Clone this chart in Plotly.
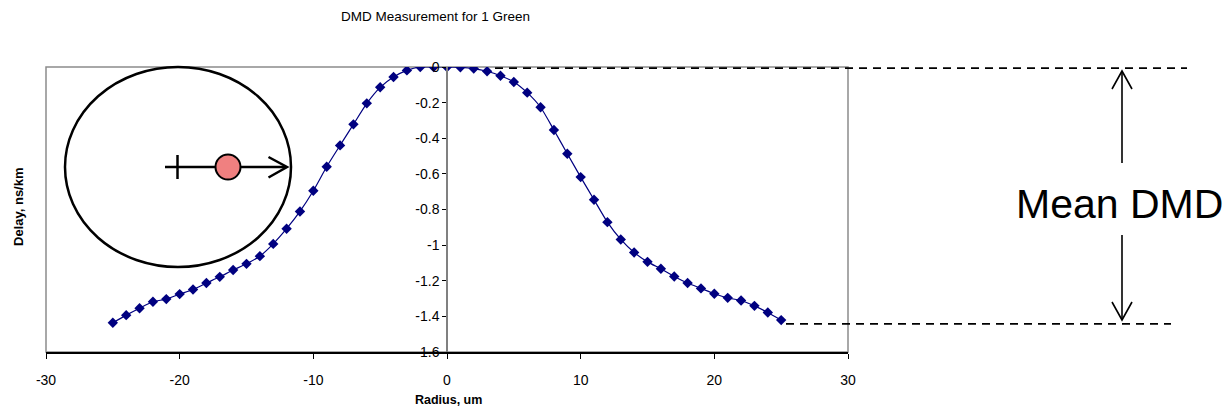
import plotly.graph_objects as go

# ---------------- data ----------------
radius_um = list(range(-25, 26))
delay_ns_km = [
    -1.436, -1.393, -1.354, -1.318, -1.303, -1.275, -1.249, -1.213, -1.178, -1.140,
    -1.105, -1.062, -0.993, -0.908, -0.811, -0.695, -0.560, -0.440, -0.322, -0.204,
    -0.114, -0.056, -0.019, 0.000, 0.000, 0.000, -0.002, -0.009, -0.024, -0.049,
    -0.084, -0.144, -0.226, -0.354, -0.487, -0.618, -0.745, -0.871, -0.968, -1.041,
    -1.094, -1.133, -1.176, -1.213, -1.243, -1.273, -1.296, -1.311, -1.341, -1.378,
    -1.421,
]
x_ticks = [-30, -20, -10, 0, 10, 20, 30]
x_tick_labels = ["-30", "-20", "-10", "0", "10", "20", "30"]
y_ticks = [0, -0.2, -0.4, -0.6, -0.8, -1, -1.2, -1.4, -1.6]
y_tick_labels = ["0", "-0.2", "-0.4", "-0.6", "-0.8", "-1", "-1.2", "-1.4", "-1.6"]

title_text = "DMD Measurement for 1 Green"
x_title = "Radius, um"
y_title = "Delay, ns/km"
dmd_label = "Mean DMD"

# ---------------- layout geometry ----------------
W, H = 1229, 410
L, R, T, B = 46, 848, 67, 352
FONT = "Liberation Sans, Arial"


def px(x):
    return (x - L) / (R - L)


def py(y):
    return (B - y) / (B - T)


fig = go.Figure()
fig.add_trace(go.Scatter(
    x=radius_um, y=delay_ns_km, mode="lines+markers",
    line=dict(color="#000080", width=1.2, shape="spline", smoothing=0.6),
    marker=dict(symbol="diamond", size=8, color="#000080"),
    showlegend=False, hoverinfo="x+y",
))

shapes = []
# plot area border (gray)
shapes.append(dict(type="rect", xref="paper", yref="paper", x0=0, x1=1, y0=0, y1=1,
                   line=dict(color="#8c8c8c", width=1.5), layer="below"))

# fiber cross-section sketch
blk = dict(color="black", width=2.5)
shapes.append(dict(type="circle", xref="paper", yref="paper",
                   x0=px(65), x1=px(291), y0=py(267), y1=py(67), line=blk))
shapes.append(dict(type="line", xref="paper", yref="paper",
                   x0=px(165), x1=px(286), y0=py(167), y1=py(167), line=blk))
shapes.append(dict(type="line", xref="paper", yref="paper",
                   x0=px(177.5), x1=px(177.5), y0=py(155), y1=py(179), line=blk))
shapes.append(dict(type="path", xref="paper", yref="paper",
                   path=f"M {px(268.5)},{py(157)} L {px(287)},{py(167)} L {px(268.5)},{py(177.5)}",
                   line=blk))
shapes.append(dict(type="circle", xref="paper", yref="paper",
                   x0=px(215.5), x1=px(240.5), y0=py(179.5), y1=py(154.5),
                   fillcolor="#f08080", line=dict(color="black", width=2)))

# Mean DMD dashed guides (at max and min of the measured delay)
dash = dict(color="black", width=1.8, dash="8px,6px")
shapes.append(dict(type="line", xref="paper", yref="y",
                   x0=px(495), x1=px(1187), y0=max(delay_ns_km) - 0.006,
                   y1=max(delay_ns_km) - 0.006, line=dash))
shapes.append(dict(type="line", xref="paper", yref="y",
                   x0=px(786), x1=px(1171), y0=min(delay_ns_km) - 0.006,
                   y1=min(delay_ns_km) - 0.006, line=dash))

# arrows
arr = dict(color="black", width=1.6)
shapes.append(dict(type="line", xref="paper", yref="paper",
                   x0=px(1122), x1=px(1122), y0=py(163), y1=py(71), line=arr))
shapes.append(dict(type="path", xref="paper", yref="paper",
                   path=f"M {px(1112)},{py(89)} L {px(1122)},{py(71)} L {px(1132)},{py(89)}",
                   line=arr))
shapes.append(dict(type="line", xref="paper", yref="paper",
                   x0=px(1122), x1=px(1122), y0=py(235), y1=py(320), line=arr))
shapes.append(dict(type="path", xref="paper", yref="paper",
                   path=f"M {px(1112)},{py(302)} L {px(1122)},{py(320)} L {px(1132)},{py(302)}",
                   line=arr))

annotations = [
    dict(text=title_text, xref="paper", yref="paper", x=px(435), y=py(16),
         showarrow=False, xanchor="center", yanchor="middle",
         font=dict(family=FONT, size=13.5, color="black")),
    dict(text=f"<b>{x_title}</b>", xref="paper", yref="paper", x=px(449), y=py(400),
         showarrow=False, xanchor="center", yanchor="middle",
         font=dict(family=FONT, size=12.5, color="black")),
    dict(text=f"<b>{y_title}</b>", xref="paper", yref="paper", x=px(18), y=py(207),
         showarrow=False, xanchor="center", yanchor="middle", textangle=-90,
         font=dict(family=FONT, size=13, color="black")),
    dict(text=dmd_label, xref="paper", yref="paper", x=px(1119), y=py(204),
         showarrow=False, xanchor="center", yanchor="middle",
         font=dict(family=FONT, size=41, color="black")),
]

fig.update_layout(
    width=W, height=H,
    margin=dict(l=L, r=W - R, t=T, b=H - B, pad=0),
    paper_bgcolor="white", plot_bgcolor="white",
    font=dict(family=FONT, size=14, color="black"),
    shapes=shapes, annotations=annotations,
    xaxis=dict(range=[-30, 30], tickvals=x_ticks, ticktext=x_tick_labels,
               showgrid=False, zeroline=False,
               showline=True, linecolor="black", linewidth=1.8,
               ticks="outside", ticklen=5, tickcolor="black", tickwidth=1,
               ticklabelstandoff=9,
               tickfont=dict(size=14), fixedrange=True),
    yaxis=dict(range=[-1.6, 0], tickvals=y_ticks, ticktext=y_tick_labels,
               anchor="free", position=0.5, showgrid=False, zeroline=False,
               showline=True, linecolor="#808080", linewidth=1.5,
               ticks="outside", ticklen=4, tickcolor="black", tickwidth=1,
               tickfont=dict(size=14), fixedrange=True),
)

fig.write_html("out.html")
